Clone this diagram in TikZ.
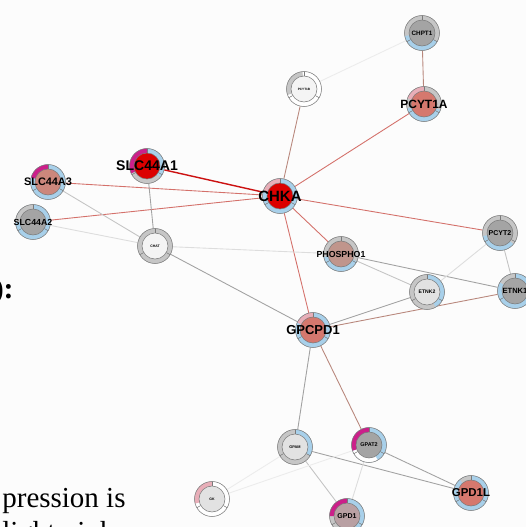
\documentclass[tikz,border=0pt]{standalone}
\usepackage{fontspec}
\setmainfont{Liberation Serif}
\setsansfont{Liberation Sans}
\usetikzlibrary{backgrounds}

\definecolor{ringgray}{HTML}{C6C6C6}
\definecolor{ringblue}{HTML}{A8D0EA}
\definecolor{ringmag}{HTML}{CC1F8A}
\definecolor{ringpink}{HTML}{E8AEB8}
\definecolor{ringline}{HTML}{7A7A7A}
\definecolor{corered}{HTML}{DC0000}
\definecolor{coresalmon}{HTML}{D5786E}
\definecolor{coresalmonb}{HTML}{CC877C}
\definecolor{coremauve}{HTML}{C0958C}
\definecolor{coremauveb}{HTML}{B9A0A3}
\definecolor{coregray}{HTML}{A4A4A4}
\definecolor{corelight}{HTML}{E2E2E2}
\definecolor{corepale}{HTML}{F4F4F4}
\definecolor{edgered}{HTML}{D4706A}
\definecolor{edgestrong}{HTML}{CC1111}
\definecolor{edgebrown}{HTML}{B8877C}
\definecolor{edgegray}{HTML}{A2A2A2}
\definecolor{edgesoft}{HTML}{C4C4C4}
\definecolor{edgelight}{HTML}{DDDDDD}
\definecolor{edgefaint}{HTML}{ECECEC}

\newcommand{\lbl}[1]{\fontsize{#1}{#1}\selectfont\sffamily\bfseries}

\tikzset{
  gene/.style 2 args={circle, minimum size=0.7cm, inner sep=0pt, draw=ringline, line width=0.3pt, fill=ringgray,
    path picture={
      \foreach \a/\b/\col in {#2}
        \fill[fill=\col] (path picture bounding box.center) -- ++(\a:0.5cm) arc[start angle=\a, end angle=\b, radius=0.5cm] -- cycle;
      \foreach \t in {90,210,330}
        \draw[ringline, line width=0.3pt] (path picture bounding box.center) ++(\t:0.26cm) -- ++(\t:0.12cm);
      \filldraw[fill=#1, draw=ringline, line width=0.3pt] (path picture bounding box.center) circle (0.26cm);
    }},
  link/.style={line width=0.5pt}
}

\begin{document}
\begin{tikzpicture}[x=0.2mm, y=-0.2mm]
  \useasboundingbox (0,0) rectangle (526,527);
  \clip (0,0) rectangle (526,527);

  \node(CHPT1)[gene={coregray}{0/360/ringgray, 190/330/ringblue}, label={[font=\lbl{3.6}]center:CHPT1}] at (422,33) {};
  \node(PCYT1B)[gene={corepale}{0/360/white, 95/200/ringgray}, label={[font=\lbl{1.8}]center:PCYT1B}] at (304,89) {};
  \node(PCYT1A)[gene={coresalmon}{0/360/ringgray, 90/160/ringpink, 195/340/ringblue}, label={[font=\lbl{6.8}]center:PCYT1A}] at (424,104) {};
  \node(SLC44A1)[gene={corered}{0/360/ringgray, 90/205/ringmag, -40/90/ringblue}, label={[font=\lbl{8}]center:SLC44A1}] at (147,166) {};
  \node(SLC44A3)[gene={coresalmonb}{0/360/ringblue, 90/165/ringmag}, label={[font=\lbl{6.2}]center:SLC44A3}] at (48,182) {};
  \node(CHKA)[gene={corered}{0/360/ringblue, 90/165/ringpink}, label={[font=\lbl{8.5}]center:CHKA}] at (280,196) {};
  \node(SLC44A2)[gene={coregray}{0/360/ringblue, 90/180/ringgray}, label={[font=\lbl{5}]center:SLC44A2}] at (33,222) {};
  \node(CHAT)[gene={corepale}{0/360/ringgray}, label={[font=\lbl{2}]center:CHAT}] at (155,246) {};
  \node(PCYT2)[gene={coregray}{0/360/ringgray, 190/320/ringblue}, label={[font=\lbl{4}]center:PCYT2}] at (500,233) {};
  \node(PHOSPHO1)[gene={coremauve}{0/360/ringgray, 190/335/ringblue}, label={[font=\lbl{5}]center:PHOSPHO1}] at (341,254) {};
  \node(ETNK2)[gene={corelight}{0/360/ringgray, -60/90/ringblue}, label={[font=\lbl{2.9}]center:ETNK2}] at (427,292) {};
  \node(ETNK1)[gene={coregray}{0/360/ringblue, 90/150/ringgray}, label={[font=\lbl{4.3}]center:ETNK1}] at (515,291) {};
  \node(GPCPD1)[gene={coresalmon}{0/360/ringblue, 90/155/ringpink}, label={[font=\lbl{7.4}]center:GPCPD1}] at (313,330) {};
  \node(GPAM)[gene={corelight}{0/360/ringgray, -30/90/ringblue}, label={[font=\lbl{2.2}]center:GPAM}] at (295,447) {};
  \node(GPAT2)[gene={coregray}{0/360/ringblue, 90/200/ringmag, 200/300/white}, label={[font=\lbl{3.1}]center:GPAT2}] at (369,445) {};
  \node(GPD1L)[gene={coresalmon}{0/360/ringblue, 90/130/ringgray}, label={[font=\lbl{6.5}]center:GPD1L}] at (471,493) {};
  \node(GPD1)[gene={coremauveb}{0/360/ringgray, 90/180/ringmag, -50/90/ringblue}, label={[font=\lbl{4}]center:GPD1}] at (347,516) {};
  \node(GK)[gene={corelight}{0/360/white, 90/195/ringpink}, label={[font=\lbl{2}]center:GK}] at (212,499) {};

  \node(colon)[anchor=base east, inner sep=0pt, font=\fontsize{17}{17}\selectfont\bfseries] at (14,298) {):};
  \node(note)[anchor=base west, inner sep=0pt, align=left, font=\fontsize{16.5}{19}\selectfont] at (2,541) {pression is\\light pink};

  \begin{scope}[on background layer]
    \fill[white!99!black] (0,0) rectangle (526,527);
    \draw[link, edgefaint] (CHPT1) -- (PCYT1B);
    \draw[link, edgebrown] (CHPT1) -- (PCYT1A);
    \draw[link, edgebrown] (PCYT1B) -- (CHKA);
    \draw[link, edgered] (PCYT1A) -- (CHKA);
    \draw[edgestrong, line width=0.8pt] (SLC44A1) -- (CHKA);
    \draw[link, edgered] (SLC44A3) -- (CHKA);
    \draw[link, edgered] (SLC44A2) -- (CHKA);
    \draw[link, edgered] (CHKA) -- (PCYT2);
    \draw[link, edgered] (CHKA) -- (PHOSPHO1);
    \draw[link, edgered] (CHKA) -- (GPCPD1);
    \draw[link, edgegray] (SLC44A1) -- (CHAT);
    \draw[link, edgesoft] (SLC44A3) -- (CHAT);
    \draw[link, edgelight] (SLC44A2) -- (CHAT);
    \draw[link, edgelight] (CHAT) -- (PHOSPHO1);
    \draw[link, edgegray] (CHAT) -- (GPCPD1);
    \draw[link, edgesoft] (PHOSPHO1) -- (ETNK2);
    \draw[link, edgegray] (PHOSPHO1) -- (ETNK1);
    \draw[link, edgelight] (PCYT2) -- (ETNK2);
    \draw[link, edgesoft] (PCYT2) -- (ETNK1);
    \draw[link, edgegray] (ETNK2) -- (GPCPD1);
    \draw[link, edgebrown] (ETNK1) -- (GPCPD1);
    \draw[link, edgegray] (GPCPD1) -- (GPAM);
    \draw[link, edgebrown] (GPCPD1) -- (GPAT2);
    \draw[link, edgegray] (GPAM) -- (GPD1L);
    \draw[link, edgesoft] (GPAM) -- (GPD1);
    \draw[link, edgegray] (GPAT2) -- (GPD1L);
    \draw[link, edgelight] (GPAT2) -- (GPD1);
    \draw[link, edgefaint] (GK) -- (GPAT2);
    \draw[link, edgefaint] (GK) -- (GPAM);
  \end{scope}
\end{tikzpicture}
\end{document}
